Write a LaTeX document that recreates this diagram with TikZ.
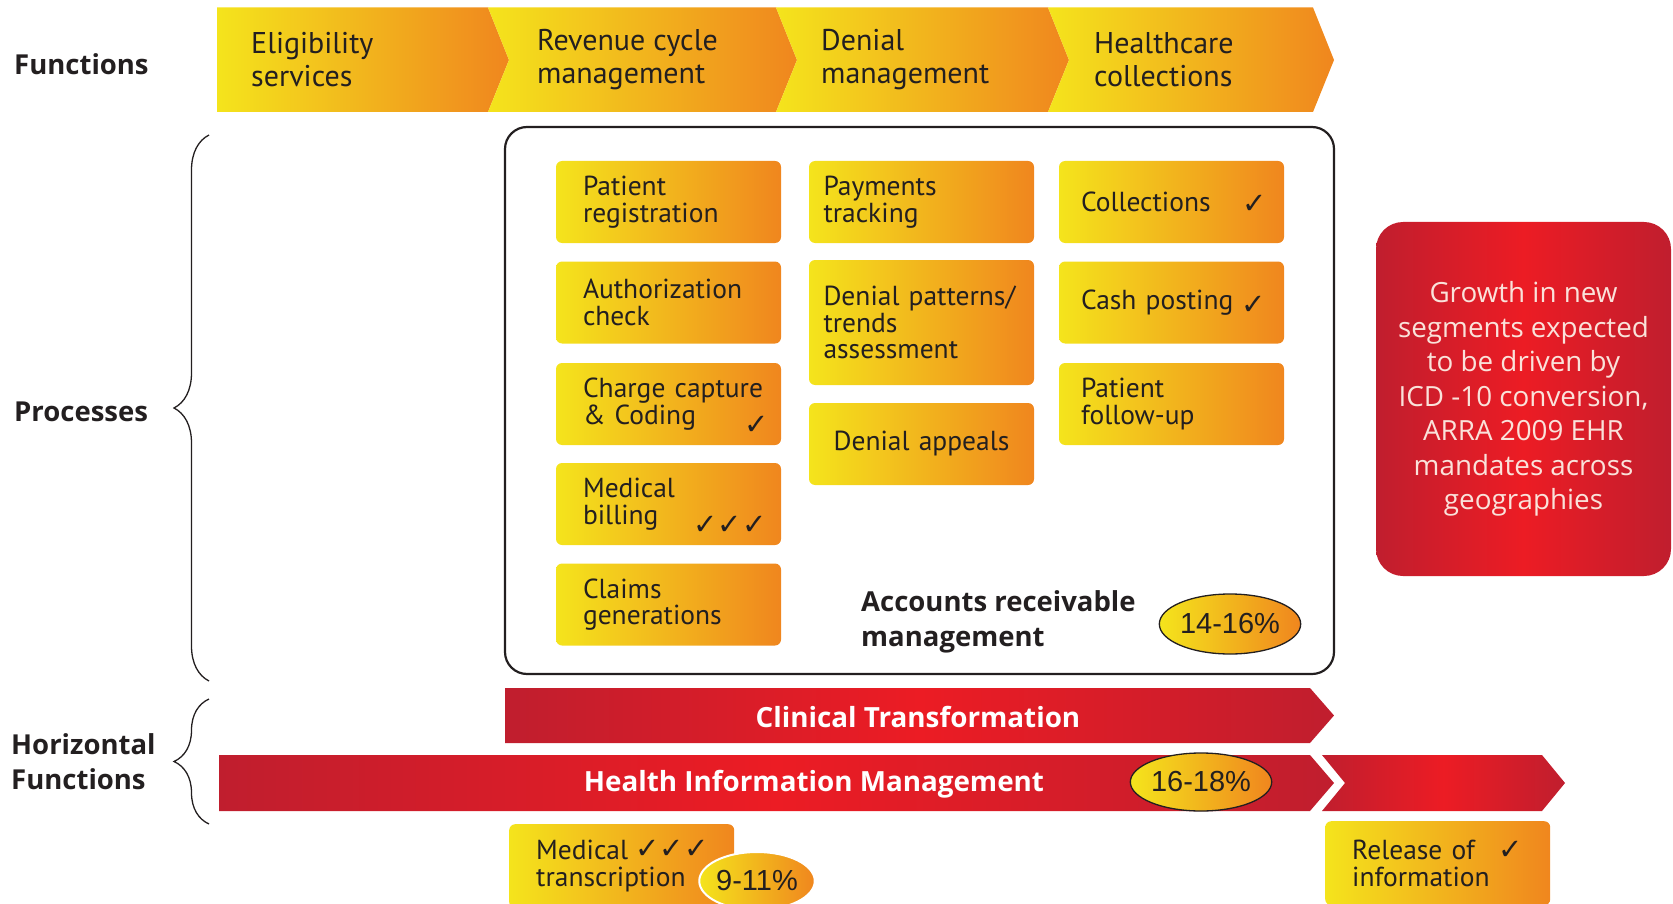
\documentclass[tikz,border=0pt]{standalone}
\usepackage{fontspec}
\setmainfont{PT Sans}
\newfontfamily\redfont{Open Sans}
\newfontfamily\symfont{DejaVu Sans}
\newfontfamily\pctfont{Liberation Sans}
\usetikzlibrary{decorations.pathreplacing,shapes.geometric}
\definecolor{yel}{RGB}{244,228,28}
\definecolor{ora}{RGB}{240,134,30}
\definecolor{dred}{RGB}{192,30,46}
\definecolor{bred}{RGB}{236,28,36}
\definecolor{ink}{RGB}{35,31,32}
\definecolor{pinkw}{RGB}{250,226,218}
\newcommand{\mychk}{{\symfont ✓}}
\begin{document}
\begin{tikzpicture}[x=1pt,y=-1pt,
  every node/.style={inner sep=0pt, text=ink},
  chev/.style={left color=yel, right color=ora},
  funtxt/.style={anchor=west, align=left, font=\fontsize{30}{33}\selectfont},
  lbl/.style={anchor=west, align=left, font=\redfont\bfseries\fontsize{27.5}{35}\selectfont},
  pbox/.style={rounded corners=6pt, left color=yel, right color=ora, minimum width=225pt, minimum height=82pt, align=left, font=\fontsize{27.5}{26.5}\selectfont},
  c1/.style={pbox, inner xsep=27pt, text width=171pt},
  c2/.style={pbox, inner xsep=14.5pt, text width=196pt},
  c3/.style={pbox, inner xsep=22pt, text width=181pt},
  chk/.style={font=\fontsize{29}{29}\selectfont},
  pct/.style={ellipse, draw=ink, line width=1.3pt, left color=yel, right color=ora, font=\pctfont\fontsize{29}{29}\selectfont},
  redbar/.style={left color=dred, right color=dred, middle color=bred},
  bartxt/.style={text=white, font=\redfont\bfseries\fontsize{27.8}{28}\selectfont},
  brc/.style={decorate, decoration={brace, amplitude=35pt}, line width=1.3pt, draw=ink}
]
\useasboundingbox (0,0) rectangle (1673,904);
\clip (0,0) rectangle (1673,904);

% left labels
\node[lbl] (lfun) at (14,64) {Functions};
\node[lbl] (lproc) at (14,412) {Processes};
\node[lbl] (lhor) at (11,762) {Horizontal\\Functions};
\draw[brc] (209,681) -- (209,135);
\draw[brc] (209,824) -- (209,699);

% top chevrons
\path[chev] (217,7.5) -- (488,7.5) -- (509,60) -- (488,112) -- (217,112) -- cycle;
\path[chev] (488,7.5) -- (776,7.5) -- (797,60) -- (776,112) -- (488,112) -- (509,60) -- cycle;
\path[chev] (776,7.5) -- (1048,7.5) -- (1069,60) -- (1048,112) -- (776,112) -- (797,60) -- cycle;
\path[chev] (1048,7.5) -- (1313,7.5) -- (1334,60) -- (1313,112) -- (1048,112) -- (1069,60) -- cycle;
\node[funtxt] (f1) at (251,59.5) {Eligibility\\services};
\node[funtxt] (f2) at (537,59.5) {Revenue cycle\\management};
\node[funtxt] (f3) at (821,59.5) {Denial\\management};
\node[funtxt] (f4) at (1094,59.5) {Healthcare\\collections};

% accounts receivable box
\node[draw=ink, line width=2.2pt, rounded corners=22pt, minimum width=829pt, minimum height=547pt] (arm) at (919.5,400.5) {};
\node[c1] (preg) at (668.5,202) {Patient\\registration};
\node[c1] (auth) at (668.5,302.5) {\mbox{Authorization}\\check};
\node[c1] (charge) at (668.5,404) {\mbox{Charge capture}\\\& Coding};
\node[c1] (mbill) at (668.5,504) {Medical\\billing};
\node[c1] (claims) at (668.5,604.5) {Claims\\generations};
\node[c2] (pay) at (921.5,202) {Payments\\tracking};
\node[c2, minimum height=125pt] (dpat) at (921.5,322.5) {\mbox{Denial patterns/}\\trends\\assessment};
\node[c2, align=center] (dapp) at (921.5,444) {Denial appeals};
\node[c3] (coll) at (1171.5,202) {Collections};
\node[c3] (cash) at (1171.5,302.5) {Cash posting};
\node[c3] (pfol) at (1171.5,404) {Patient\\follow-up};
\node[chk] (k1) at (1255,204) {\mychk};
\node[chk] (k2) at (1254,305) {\mychk};
\node[chk] (k3) at (757,425) {\mychk};
\node[chk] (k4) at (730,525) {\mychk\mychk\mychk};
\node[lbl] (artxt) at (861,621.5) {Accounts receivable\\management};
\node[pct, minimum width=134pt, minimum height=60pt] (p1) at (1230,624) {14-16\%};

% growth box
\node[rounded corners=27pt, left color=dred, right color=dred, middle color=bred, minimum width=295pt, minimum height=354pt, text=pinkw, align=center, font=\redfont\fontsize{27.8}{34.5}\selectfont] (growth) at (1523.5,399) {Growth in new\\segments expected\\to be driven by\\ICD -10 conversion,\\ARRA 2009 EHR\\mandates across\\geographies};

% horizontal bars
\path[redbar] (505,688) -- (1310,688) -- (1334,715.5) -- (1310,743) -- (505,743) -- cycle;
\node[bartxt] (ct) at (918,717) {Clinical Transformation};
\path[redbar] (219,755) -- (1310,755) -- (1334,783) -- (1310,811) -- (219,811) -- cycle;
\path[redbar] (1322,755) -- (1542,755) -- (1565,783) -- (1542,811) -- (1322,811) -- (1345,783) -- cycle;
\node[bartxt] (him) at (814,784) {Health Information Management};
\node[pct, minimum width=134pt, minimum height=58pt] (p2) at (1201,782) {16-18\%};

% bottom boxes
\node[c1, minimum height=84pt, anchor=north west] (mt) at (509,824) {Medical\\\mbox{transcription}};
\node[chk] (k5) at (672,849) {\mychk\mychk\mychk};
\node[pct, draw=white, line width=2pt, minimum width=114pt, minimum height=58pt] (p3) at (757,881) {9-11\%};
\node[c1, minimum height=84pt, anchor=north west] (roi) at (1325,821) {Release of\\information};
\node[chk] (k6) at (1511,850) {\mychk};
\end{tikzpicture}
\end{document}
